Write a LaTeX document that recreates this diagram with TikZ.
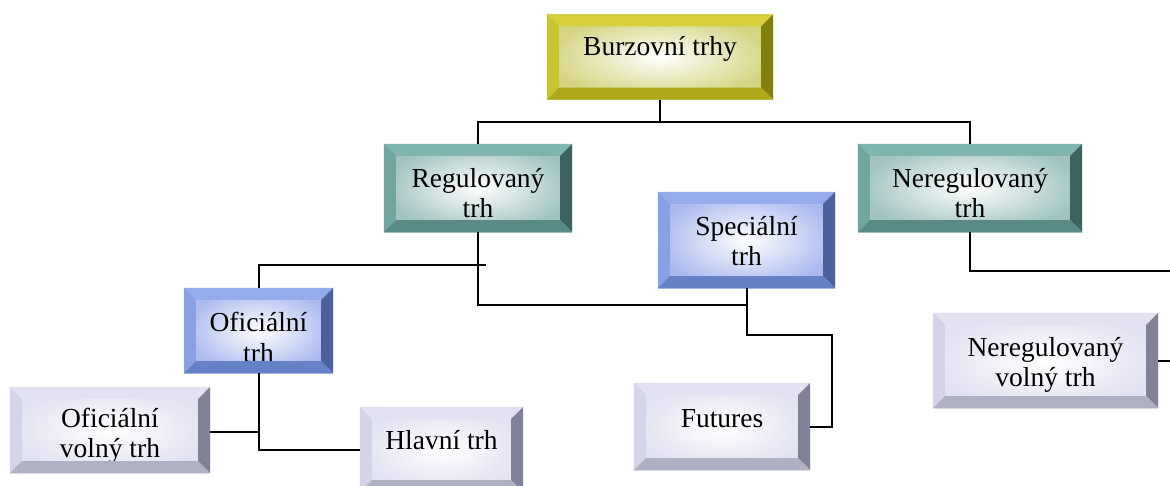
\documentclass[tikz,border=0pt]{standalone}
\usepackage{fontspec}
\setmainfont{Liberation Serif}
\newfontfamily\boxfont{Liberation Serif}
% yellow scheme
\definecolor{YT}{RGB}{214,208,58}
\definecolor{YL}{RGB}{200,196,45}
\definecolor{YR}{RGB}{128,128,10}
\definecolor{YB}{RGB}{172,168,25}
\definecolor{YF}{RGB}{212,212,130}
% teal scheme
\definecolor{TT}{RGB}{128,180,175}
\definecolor{TL}{RGB}{112,165,160}
\definecolor{TR}{RGB}{62,98,95}
\definecolor{TB}{RGB}{90,138,133}
\definecolor{TF}{RGB}{160,195,192}
% blue scheme
\definecolor{BT}{RGB}{148,172,236}
\definecolor{BL}{RGB}{136,160,228}
\definecolor{BR}{RGB}{76,96,156}
\definecolor{BB}{RGB}{102,130,198}
\definecolor{BF}{RGB}{170,186,238}
% lavender scheme
\definecolor{LT}{RGB}{226,226,242}
\definecolor{LL}{RGB}{212,212,232}
\definecolor{LR}{RGB}{130,130,150}
\definecolor{LB}{RGB}{176,176,196}
\definecolor{LF}{RGB}{226,226,242}
\newlength\bw
\setlength\bw{12pt}
\newcommand\bev[2]{%
  \fill[#2T] (#1.north west) -- (#1.north east) -- ([xshift=-\bw,yshift=-\bw]#1.north east) -- ([xshift=\bw,yshift=-\bw]#1.north west) -- cycle;
  \fill[#2L] (#1.north west) -- (#1.south west) -- ([xshift=\bw,yshift=\bw]#1.south west) -- ([xshift=\bw,yshift=-\bw]#1.north west) -- cycle;
  \fill[#2R] (#1.north east) -- (#1.south east) -- ([xshift=-\bw,yshift=\bw]#1.south east) -- ([xshift=-\bw,yshift=-\bw]#1.north east) -- cycle;
  \fill[#2B] (#1.south west) -- (#1.south east) -- ([xshift=-\bw,yshift=\bw]#1.south east) -- ([xshift=\bw,yshift=\bw]#1.south west) -- cycle;
}
% text block whose first baseline sits #1 above the node centre
\newcommand\bt[2]{\raisebox{#1}[0pt][0pt]{\begin{tabular}[t]{@{}c@{}}#2\end{tabular}}}
\tikzset{
  box/.style={rectangle, inner sep=0pt,
    font=\boxfont\fontsize{27.5}{30.5}\selectfont, inner color=white, outer color=#1F},
  link/.style={line width=2pt, black},
}
\begin{document}
\begin{tikzpicture}[x=1pt,y=-1pt]
\useasboundingbox (0,0) rectangle (1170,485);
% boxes
\node[box=Y, minimum width=226pt, minimum height=85pt] (burz) at (660,57) {\bt{2pt}{Burzovní trhy}};
\node[box=T, minimum width=188pt, minimum height=88pt] (reg) at (478,188) {\bt{1pt}{Regulovaný\\trh}};
\node[box=T, minimum width=224pt, minimum height=88pt] (nereg) at (970,188) {\bt{1pt}{Neregulovaný\\trh}};
\node[box=B, minimum width=177pt, minimum height=96pt] (spec) at (746.5,240) {\bt{5pt}{Speciální\\trh}};
\node[box=B, minimum width=149pt, minimum height=85pt] (ofic) at (258.5,330.5) {\bt{-1pt}{Oficiální\\trh}};
\node[box=L, minimum width=200pt, minimum height=86pt] (ovol) at (110,430) {\bt{3pt}{Oficiální\\volný trh}};
\node[box=L, minimum width=163pt, minimum height=85pt] (hlav) at (441.5,449.5) {\bt{0.5pt}{Hlavní trh}};
\node[box=L, minimum width=176pt, minimum height=87pt] (fut) at (722,426.5) {\bt{-0.5pt}{Futures}};
\node[box=L, minimum width=225pt, minimum height=95pt] (nvol) at (1045.5,360.5) {\bt{4.5pt}{Neregulovaný\\volný trh}};
\bev{burz}{Y}
\bev{reg}{T}
\bev{nereg}{T}
\bev{spec}{B}
\bev{ofic}{B}
\bev{ovol}{L}
\bev{hlav}{L}
\bev{fut}{L}
\bev{nvol}{L}
% connector coordinates
\coordinate (j1) at (660,122);
\coordinate (j2) at (486,265);
\coordinate (j3) at (0,305);
\coordinate (j4) at (832,335);
\coordinate (j5) at (1170,271);
\coordinate (j6) at (1170,0);
\coordinate (j7) at (0,432);
% connectors
\draw[link] (burz.south) -- (j1);
\draw[link] (reg.north) -- (reg.north |- j1) -- (nereg.north |- j1) -- (nereg.north);
\draw[link] (ofic.north) -- (ofic.north |- j2) -- (j2);
\draw[link] (reg.south) -- (reg.south |- j3) -- (spec.south |- j3);
\draw[link] (spec.south) -- (spec.south |- j4) -- (j4) -- (j4 |- fut.east) -- (fut.east);
\draw[link] (ofic.south) -- (ofic.south |- hlav.west) -- (hlav.west);
\draw[link] (ovol.east |- j7) -- (ofic.south |- j7);
\draw[link] (nereg.south) -- (nereg.south |- j5) -- (j5);
\draw[link] (nvol.east) -- (j6 |- nvol.east);
\end{tikzpicture}
\end{document}
